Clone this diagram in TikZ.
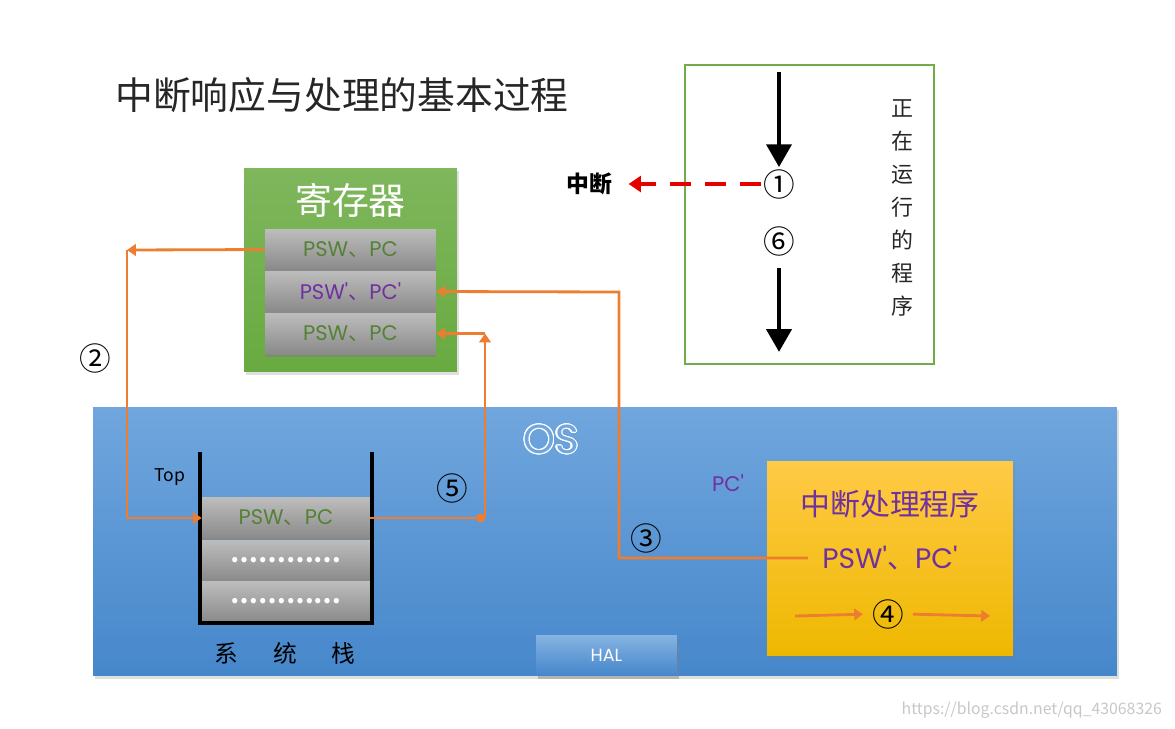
\documentclass[tikz,border=0pt]{standalone}
\usepackage{fontspec}
\setmainfont{Noto Sans CJK SC}
\newfontfamily\geo{Poppins}
\usepackage{tikz}
\usepackage{contour}
\usetikzlibrary{positioning, calc, arrows.meta, shadows}
\definecolor{regGreen}{RGB}{104,170,64}
\definecolor{osTop}{RGB}{112,166,221}
\definecolor{osBot}{RGB}{70,135,203}
\definecolor{isrTop}{RGB}{255,202,70}
\definecolor{isrBot}{RGB}{238,184,0}
\definecolor{flowOrange}{RGB}{237,125,49}
\definecolor{txtPurple}{RGB}{112,48,160}
\definecolor{txtGreen}{RGB}{84,130,53}
\definecolor{progGreen}{RGB}{112,173,71}
\newcommand{\setfs}[1]{\fontsize{#1}{#1}\selectfont}
\contourlength{0.7pt}

\begin{document}
\begin{tikzpicture}[x=0.02cm, y=-0.02cm,
     cell/.style={minimum width=3.42cm, minimum height=0.82cm, inner sep=0pt, top color=black!26, bottom color=black!46, drop shadow={shadow xshift=0pt, shadow yshift=-1.5pt, opacity=0.6}, font=\setfs{12}},
     softshadow/.style={drop shadow={shadow xshift=1pt, shadow yshift=-1.5pt, opacity=0.25}},
     flow/.style={draw=flowOrange, line width=1.6pt, -{Triangle[width=6.5pt,length=5pt]}},
     circnum/.style={font=\setfs{18}, inner sep=1pt}]
               \useasboundingbox (0,0) rectangle (1175,728);
               \node[text=black!85, font=\setfs{21.5}] (title) at (342,95) {中断响应与处理的基本过程};
               \node[minimum width=4.26cm, minimum height=4.08cm, top color=regGreen!85!white, bottom color=regGreen, softshadow] (reg) at (350.5,270) {};
               \node[text=white, font=\setfs{21}] (regtitle) at (350.5,200) {寄存器};
               \node[cell, text=txtGreen] (regA) at (350.5,249.5) {{\geo PSW}、{\geo PC}};
               \node[cell, text=txtPurple] (regB) at (350.5,291.5) {{\geo PSW'}、{\geo PC'}};
               \node[cell, text=txtGreen] (regC) at (350.5,333.5) {{\geo PSW}、{\geo PC}};
               \node[minimum width=20.48cm, minimum height=5.38cm, top color=osTop, bottom color=osBot, softshadow] (osbox) at (605,541.5) {};
               \node[font=\setfs{23}\geo] (oslabel) at (551,440) {\contour{white}{\textcolor{osTop}{OS}}};
               \node[minimum width=2.82cm, minimum height=0.8cm, top color=osTop!85!white, bottom color=osBot, drop shadow={shadow xshift=1pt, shadow yshift=-2pt, opacity=0.45}, text=white, font=\setfs{10}\geo] (hal) at (606.5,655) {HAL};
               \node[cell, minimum width=3.36cm, text=txtGreen] (stkA) at (286,518) {{\geo PSW}、{\geo PC}};
               \node[cell, minimum width=3.36cm, text=white, font=\setfs{14}\bfseries] (stkB) at (286,560.5) {…………};
               \node[cell, minimum width=3.36cm, text=white, font=\setfs{14}\bfseries] (stkC) at (286,601.5) {…………};
               \draw[line width=2pt] (200,452) -- (200,623) -- (372,623) -- (372,452);
               \node[font=\setfs{10}] (top) at (170,477) {Top};
               \node[font=\setfs{13.5}] (stklabel) at (285,653) {系\hspace{20pt}统\hspace{20pt}栈};
               \node[minimum width=4.92cm, minimum height=3.9cm, top color=isrTop, bottom color=isrBot, softshadow] (isr) at (890,558.5) {};
               \node[text=txtPurple, font=\setfs{17}] (isrtitle) at (890,504) {中断处理程序};
               \node[text=txtPurple, font=\setfs{16}, inner sep=8pt] (isrB) at (890,558) {{\geo PSW'}、{\geo PC'}};
               \node[text=txtPurple, font=\setfs{12}\geo] (pcmark) at (728,483) {PC'};
               \node[circnum] (n2) at (95,358) {②};
               \node[circnum] (n3) at (646,538) {③};
               \node[circnum] (n4) at (888,614) {④};
               \node[circnum] (n5) at (452,488) {⑤};
               \coordinate (bendA) at (127,250);
               \coordinate (bendB) at (485,518);
               \coordinate (bendD) at (619,292);
               \coordinate (runC) at (795,616);
               \coordinate (runD) at (990,616);
               \draw[flow] (regA.west) -- (bendA);
               \draw[flow] (bendA) |- (stkA.west);
               \draw[flow, -{Circle[length=5pt]}] (stkA.east) -- (bendB);
               \draw[flow] (bendB) -- (bendB |- regC.east);
               \draw[flow] (bendB |- regC.east) -- (regC.east);
               \draw[flow] (isrB.west) -| (bendD) -- (regB.east);
               \draw[flow, shorten >=4pt] (runC) -- (n4.west);
               \draw[flow, shorten <=4pt] (n4.east) -- (runD);
               \node[draw=progGreen, line width=1.2pt, minimum width=4.98cm, minimum height=5.98cm] (prog) at (809.5,214.5) {};
               \node[circnum] (n1) at (779,184) {①};
               \node[circnum] (n6) at (779,241) {⑥};
               \node[font=\fontsize{12.5}{18.8}\selectfont, align=center, text=black!85] (progtxt) at (902,208) {正\\在\\运\\行\\的\\程\\序};
               \node[font=\setfs{13}\bfseries] (intr) at (589,184) {中断};
               \coordinate (runA) at (779,72);
               \coordinate (runB) at (779,352);
               \draw[line width=2.8pt, -{Triangle[width=14pt,length=13pt]}] (runA) -- (n1.north);
               \draw[line width=2.8pt, -{Triangle[width=14pt,length=13pt]}] ([yshift=-6pt]n6.south) -- (runB);
               \draw[red!90!black, line width=2.2pt, dash pattern=on 12pt off 8pt, -{Triangle[width=9pt,length=7pt]}, shorten >=6pt] (n1.west) -- (intr.east);
               \node[text=black!22, font=\setfs{9}, anchor=east] (wm) at (1168,710) {https://blog.csdn.net/qq\_43068326};
          \end{tikzpicture}
\end{document}
